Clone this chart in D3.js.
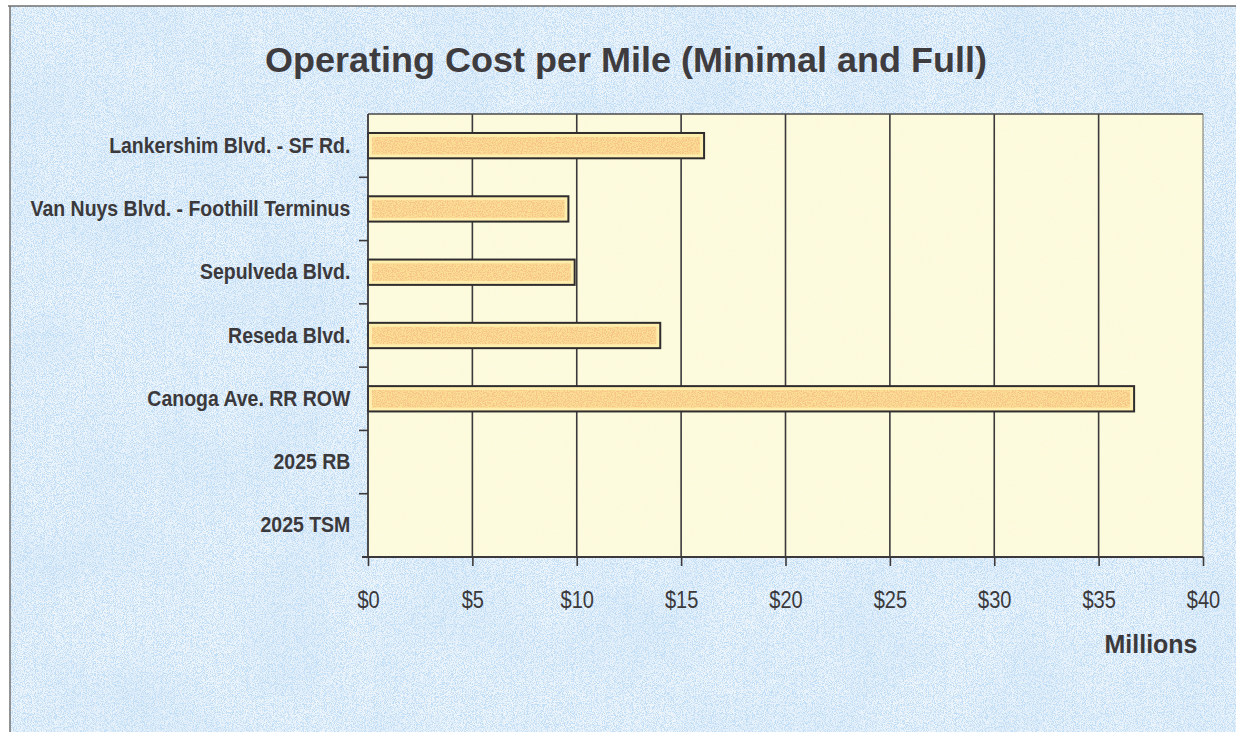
<!DOCTYPE html>
<html>
<head>
<meta charset="utf-8">
<script src="https://cdn.jsdelivr.net/npm/d3@7"></script>
<style>
  html, body { margin: 0; padding: 0; background: #fff; }
  svg { display: block; font-family: "Liberation Sans", Arial, sans-serif; }
</style>
</head>
<body>
<svg id="chart" width="1236" height="732"></svg>
<script>

const chartTitle = "Operating Cost per Mile (Minimal and Full)";
const categories = [
    "Lankershim Blvd. - SF Rd.",
    "Van Nuys Blvd. - Foothill Terminus",
    "Sepulveda Blvd.",
    "Reseda Blvd.",
    "Canoga Ave. RR ROW",
    "2025 RB",
    "2025 TSM"
];
const costs = [16.1, 9.6, 9.9, 14.0, 36.7, null, null]; // millions $
const xTicks = [0, 5, 10, 15, 20, 25, 30, 35, 40];
const xTickLabels = ["$0", "$5", "$10", "$15", "$20", "$25", "$30", "$35", "$40"];
const xUnit = "Millions";

$ready();

function $ready(){
    const svg = d3.select("#chart");
    addFilters(svg);
    drawChart(svg);
}

function addFilters(svg){
    const defs = svg.append("defs");

    // blue mottled paper
    const bg = defs.append("filter").attr("id", "paper")
        .attr("x", 0).attr("y", 0).attr("width", 1).attr("height", 1);
    bg.append("feTurbulence").attr("type", "fractalNoise")
        .attr("baseFrequency", 1.1).attr("numOctaves", 2).attr("seed", 4).attr("result", "fine");
    bg.append("feColorMatrix").attr("in", "fine").attr("type", "matrix")
        .attr("values", "0 0 0 0 0.52  0 0 0 0 0.72  0 0 0 0 0.92  4.5 0 0 0 -1.9")
        .attr("result", "specks");
    bg.append("feTurbulence").attr("type", "fractalNoise")
        .attr("baseFrequency", 0.012).attr("numOctaves", 3).attr("seed", 9).attr("result", "cloud");
    bg.append("feColorMatrix").attr("in", "cloud").attr("type", "matrix")
        .attr("values", "0 0 0 0 0.74  0 0 0 0 0.85  0 0 0 0 0.95  1.6 0 0 0 -0.6")
        .attr("result", "clouds");
    bg.append("feMerge").call(m => {
        m.append("feMergeNode").attr("in", "SourceGraphic");
        m.append("feMergeNode").attr("in", "clouds");
        m.append("feMergeNode").attr("in", "specks");
    });

    // orange speckles for the bars
    const bar = defs.append("filter").attr("id", "grain")
        .attr("x", 0).attr("y", 0).attr("width", 1).attr("height", 1);
    bar.append("feTurbulence").attr("type", "fractalNoise")
        .attr("baseFrequency", 0.8).attr("numOctaves", 2).attr("seed", 2).attr("result", "n");
    bar.append("feColorMatrix").attr("in", "n").attr("type", "matrix")
        .attr("values", "0 0 0 0 0.93  0 0 0 0 0.55  0 0 0 0 0.25  5.0 0 0 0 -2.1")
        .attr("result", "dots");
    bar.append("feComposite").attr("in", "dots").attr("in2", "SourceGraphic")
        .attr("operator", "atop").attr("result", "d2");
    bar.append("feMerge").call(m => {
        m.append("feMergeNode").attr("in", "SourceGraphic");
        m.append("feMergeNode").attr("in", "d2");
    });

    // faint yellow grain for plot area
    const pl = defs.append("filter").attr("id", "plotgrain")
        .attr("x", 0).attr("y", 0).attr("width", 1).attr("height", 1);
    pl.append("feTurbulence").attr("type", "fractalNoise")
        .attr("baseFrequency", 0.6).attr("numOctaves", 2).attr("seed", 7).attr("result", "n");
    pl.append("feColorMatrix").attr("in", "n").attr("type", "matrix")
        .attr("values", "0 0 0 0 0.98  0 0 0 0 0.95  0 0 0 0 0.68  2.4 0 0 0 -1.0")
        .attr("result", "dots");
    pl.append("feComposite").attr("in", "dots").attr("in2", "SourceGraphic")
        .attr("operator", "atop").attr("result", "d2");
    pl.append("feMerge").call(m => {
        m.append("feMergeNode").attr("in", "SourceGraphic");
        m.append("feMergeNode").attr("in", "d2");
    });
}

function drawChart(svg){
    const ink = "#3b393b";
    const top = 114, bottom = 557, left = 368, right = 1203;

    // background paper + frame
    svg.append("rect").attr("x", 10).attr("y", 6).attr("width", 1226).attr("height", 726)
        .attr("fill", "#eef5fb").attr("filter", "url(#paper)");
    svg.append("line").attr("x1", 10).attr("x2", 10).attr("y1", 6).attr("y2", 732)
        .attr("stroke", "#6f6f6f").attr("stroke-width", 1.5);
    svg.append("line").attr("x1", 8).attr("x2", 1236).attr("y1", 6).attr("y2", 6)
        .attr("stroke", "#6f6f6f").attr("stroke-width", 1.5);

    const x = d3.scaleLinear().domain([0, 40]).range([left, right]);
    const y = d3.scaleBand().domain(categories).range([top, bottom])
        .paddingInner(0.6).paddingOuter(0.3);

    // plot area
    svg.append("rect").attr("x", x(0)).attr("y", top)
        .attr("width", x(40) - x(0)).attr("height", bottom - top)
        .attr("fill", "#fcfbdf").attr("filter", "url(#plotgrain)");

    // grid
    svg.append("g").selectAll("line")
        .data(xTicks.filter(d => d > 0 && d < 40))
        .enter().append("line")
        .attr("x1", d => x(d)).attr("x2", d => x(d))
        .attr("y1", top).attr("y2", bottom)
        .attr("stroke", ink).attr("stroke-width", 1.6);
    svg.append("line").attr("x1", x(40)).attr("x2", x(40)).attr("y1", top).attr("y2", bottom)
        .attr("stroke", "#8d8a80").attr("stroke-width", 1.2);
    svg.append("line").attr("x1", x(0)).attr("x2", x(40)).attr("y1", top).attr("y2", top)
        .attr("stroke", "#4a4748").attr("stroke-width", 1.6);

    // bars
    const rows = categories.map((c, i) => ({name: c, value: costs[i]})).filter(d => d.value != null);
    const bars = svg.append("g").selectAll("g")
        .data(rows)
        .enter().append("g");
    bars.append("rect")
        .attr("x", x(0)).attr("y", d => y(d.name))
        .attr("width", d => x(d.value) - x(0)).attr("height", y.bandwidth())
        .attr("fill", "#fdeeae").attr("stroke", "#2f2c2d").attr("stroke-width", 2);
    bars.append("rect")
        .attr("x", x(0) + 4).attr("y", d => y(d.name) + 4)
        .attr("width", d => x(d.value) - x(0) - 8).attr("height", y.bandwidth() - 8)
        .attr("fill", "#fbdf94").attr("filter", "url(#grain)");

    // x axis
    const xAxis = svg.append("g")
        .attr("transform", "translate(0," + bottom + ")")
        .call(d3.axisBottom(x).tickValues(xTicks)
            .tickFormat((d, i) => xTickLabels[i])
            .tickSize(9).tickSizeOuter(0).tickPadding(26));
    xAxis.select(".domain").attr("stroke", ink).attr("stroke-width", 1.8)
        .attr("d", "M" + (left - 6) + ",0H" + right);
    xAxis.selectAll(".tick line").attr("stroke", ink).attr("stroke-width", 1.6);
    xAxis.selectAll(".tick text")
        .attr("fill", ink).style("font-size", "23px")
        .attr("transform", "scale(0.87,1)");

    // y axis
    const yAxis = svg.append("g")
        .attr("transform", "translate(" + left + ",0)")
        .call(d3.axisLeft(y).tickSize(0).tickPadding(20));
    yAxis.select(".domain").attr("stroke", ink).attr("stroke-width", 1.8)
        .attr("d", "M0," + top + "V" + bottom);
    yAxis.selectAll(".tick text")
        .attr("fill", ink).style("font-size", "22px").style("font-weight", "bold")
        .attr("transform", "scale(0.885,1)");
    const gap = y.step() - y.bandwidth();
    yAxis.selectAll(".bound")
        .data(categories.slice(1))
        .enter().append("line")
        .attr("class", "bound")
        .attr("x1", -9).attr("x2", 0)
        .attr("y1", d => y(d) - gap / 2).attr("y2", d => y(d) - gap / 2)
        .attr("stroke", ink).attr("stroke-width", 1.6);

    // texts
    svg.append("text")
        .attr("x", 626).attr("y", 72)
        .attr("text-anchor", "middle")
        .attr("textLength", 722).attr("lengthAdjust", "spacingAndGlyphs")
        .style("font-size", "35px").style("font-weight", "bold")
        .attr("fill", "#3f3c3f")
        .text(chartTitle);

    svg.append("text")
        .attr("x", 1151).attr("y", 653)
        .attr("text-anchor", "middle")
        .style("font-size", "25px").style("font-weight", "bold")
        .attr("fill", ink)
        .text(xUnit);
}
</script>
</body>
</html>
